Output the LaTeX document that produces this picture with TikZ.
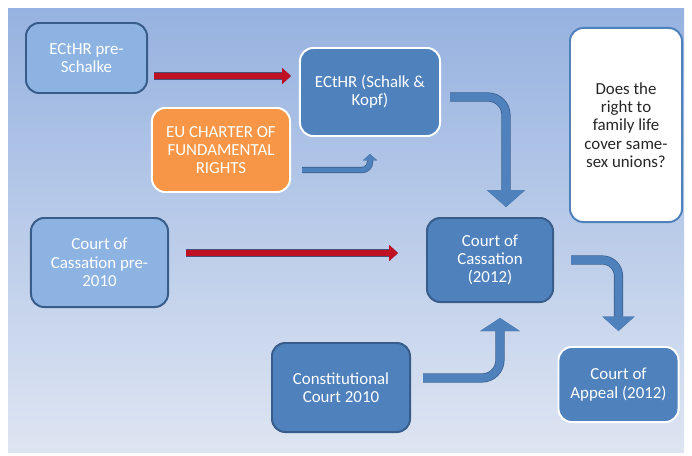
\documentclass[tikz,border=0pt]{standalone}
\usepackage{fontspec}
\usepackage{tikz}
\usetikzlibrary{arrows.meta,positioning,calc}
\setmainfont{Carlito}
\definecolor{BgTop}{RGB}{150,178,224}
\definecolor{BgBottom}{RGB}{222,229,242}
\definecolor{LightFill}{RGB}{141,179,226}
\definecolor{MainBlue}{RGB}{79,129,189}
\definecolor{BoxEdge}{RGB}{56,93,138}
\definecolor{CharterOrange}{RGB}{247,150,70}
\definecolor{ArrowRed}{RGB}{192,16,36}
\definecolor{RedEdge}{RGB}{70,80,120}
\definecolor{QuestionText}{RGB}{38,38,38}

\begin{document}
\begin{tikzpicture}[x=0.025cm,y=-0.025cm,
    box/.style={rectangle, rounded corners=0.33cm, line width=1.4pt, align=center,
      text=white, inner sep=2pt, font=\fontsize{12}{13}\selectfont},
    lightbox/.style={box, fill=LightFill, draw=BoxEdge},
    darkbox/.style={box, fill=MainBlue, draw=BoxEdge},
    paledge/.style={box, fill=MainBlue, draw=white},
    redarrow/.style={draw=ArrowRed, line width=4pt,
      -{Triangle[width=0.4cm,length=0.22cm,line width=0pt]},
      preaction={draw=RedEdge, line width=5.5pt}},
    bendarrow/.style n args={4}{draw=MainBlue, line width=#1, rounded corners=#2,
      -{Triangle[width=#3,length=#4,line width=0pt]},
      preaction={draw=BoxEdge, line width=#1+1pt}}]
  \useasboundingbox (0,0) rectangle (692,455);
  \fill[white] (0,0) rectangle (692,455);
  \shade[top color=BgTop, bottom color=BgBottom] (8,8) rectangle (684,452);

  % boxes
  \node[lightbox, minimum width=3.025cm, minimum height=1.75cm] (preschalke) at (86.5,58) {ECtHR pre-\\Schalke};
  \node[paledge, minimum width=3.5cm, minimum height=2.2cm] (schalk) at (370,92) {ECtHR (Schalk \&\\Kopf)};
  \node[box, fill=CharterOrange, draw=white, minimum width=3.45cm, minimum height=2.1cm] (charter) at (221,150) {EU CHARTER OF\\FUNDAMENTAL\\RIGHTS};
  \node[lightbox, minimum width=3.425cm, minimum height=2.225cm] (casspre) at (99.5,262.5) {Court of\\Cassation pre-\\2010};
  \node[darkbox, minimum width=3.15cm, minimum height=2.1cm] (cass) at (490,260) {Court of\\Cassation\\(2012)};
  \node[darkbox, minimum width=3.45cm, minimum height=2.225cm] (const) at (341,387.5) {Constitutional\\Court 2010};
  \node[paledge, minimum width=3.0cm, minimum height=1.875cm] (appeal) at (618.5,384.5) {Court of\\Appeal (2012)};
  \node[box, fill=white, draw=MainBlue, text=QuestionText, minimum width=2.8cm, minimum height=4.85cm] (question) at (626,125) {Does the\\right to\\family life\\cover same-\\sex unions?};

  % red arrows
  \draw[redarrow] ($(preschalke.east)+(6,18)$) -- ($(schalk.west)+(-8,-16)$);
  \draw[redarrow] ($(casspre.east)+(17,-9.5)$) -- ($(cass.west)+(-28,-7)$);

  % bent arrows
  \draw[bendarrow={5.5pt}{0.45cm}{0.95cm}{0.42cm}] ($(schalk.east)+(9,5)$) -| ($(cass.north)+(16,-10)$);
  \draw[bendarrow={3.5pt}{0.2cm}{0.36cm}{0.16cm}] ($(charter.east)+(11,20)$) -| ($(schalk.south)+(0,17)$);
  \draw[bendarrow={5.5pt}{0.4cm}{0.8cm}{0.36cm}] ($(cass.east)+(17,0)$) -| ($(appeal.north)+(0,-15)$);
  \draw[bendarrow={5.5pt}{0.45cm}{1.0cm}{0.33cm}] ($(const.east)+(12,-9.5)$) -| ($(cass.south)+(10,15)$);
\end{tikzpicture}
\end{document}
